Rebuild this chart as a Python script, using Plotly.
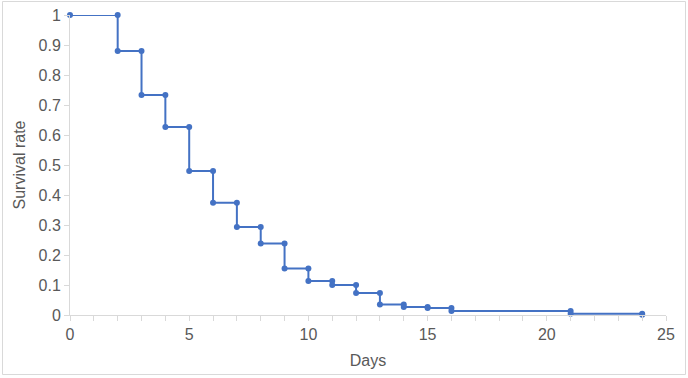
import plotly.graph_objects as go

# Event times (days) and survival rate after each event
days = [0, 2, 3, 4, 5, 6, 7, 8, 9, 10, 11, 12, 13, 14, 15, 16, 21, 24]
survival = [1.0, 0.88, 0.733, 0.627, 0.48, 0.374, 0.293, 0.238, 0.155,
            0.113, 0.100, 0.073, 0.035, 0.027, 0.023, 0.013, 0.004, 0.001]

x_tick_vals = [0, 5, 10, 15, 20, 25]
y_tick_vals = [0, 0.1, 0.2, 0.3, 0.4, 0.5, 0.6, 0.7, 0.8, 0.9, 1]
y_tick_text = ["0", "0.1", "0.2", "0.3", "0.4", "0.5", "0.6", "0.7", "0.8", "0.9", "1"]

# Build step-curve corner points (horizontal then vertical)
xs, ys = [days[0]], [survival[0]]
for i in range(1, len(days)):
    xs += [days[i], days[i]]
    ys += [survival[i - 1], survival[i]]

blue = "#4472C4"
grey_text = "#595959"
axis_grey = "#D9D9D9"

fig = go.Figure()
fig.add_trace(go.Scatter(
    x=xs, y=ys, mode="lines+markers",
    line=dict(color=blue, width=2),
    marker=dict(color=blue, size=6),
    showlegend=False, hoverinfo="x+y", cliponaxis=False,
))

L, R, T, B = 70, 22, 15, 63
W, H = 688, 378
pw, ph = W - L - R, H - T - B

fs = 16
fig.update_layout(
    width=W, height=H,
    margin=dict(l=L, r=R, t=T, b=B),
    paper_bgcolor="white", plot_bgcolor="white",
    font=dict(family="Liberation Sans, Arial, sans-serif", size=fs, color=grey_text),
    xaxis=dict(
        range=[0, 25], tickvals=x_tick_vals, showgrid=False, zeroline=False,
        showline=True, linecolor=axis_grey, linewidth=1, automargin=False,
        ticks="outside", ticklen=5, tickcolor=axis_grey,
        minor=dict(dtick=1, ticks="outside", ticklen=5, tickcolor=axis_grey, showgrid=False),
        title=dict(text="Days", font=dict(size=fs, color=grey_text), standoff=12),
        tickfont=dict(size=fs, color=grey_text),
    ),
    yaxis=dict(
        range=[0, 1], tickvals=y_tick_vals, ticktext=y_tick_text,
        showgrid=False, zeroline=False, automargin=False,
        showline=True, linecolor=axis_grey, linewidth=1,
        ticks="outside", ticklen=5, tickcolor=axis_grey,
        title=dict(text="Survival rate", font=dict(size=fs, color=grey_text), standoff=8),
        tickfont=dict(size=fs, color=grey_text),
    ),
    shapes=[dict(
        type="rect", xref="paper", yref="paper",
        x0=(2.5 - L) / pw, x1=(685.5 - L) / pw,
        y0=(T + ph - 374.5) / ph, y1=(T + ph - 1.5) / ph,
        line=dict(color=axis_grey, width=1), layer="below",
    )],
)

fig.write_html("out.html")
